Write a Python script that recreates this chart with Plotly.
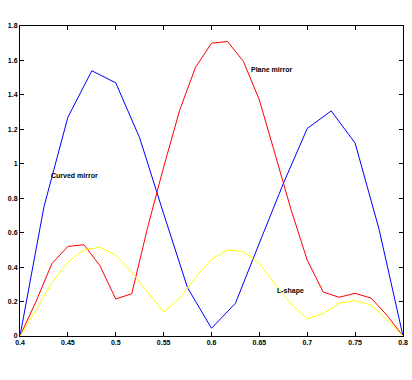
import plotly.graph_objects as go

# x grids
x_curved = [0.4, 0.425, 0.45, 0.475, 0.5, 0.525, 0.55, 0.575, 0.6, 0.625,
            0.65, 0.675, 0.7, 0.725, 0.75, 0.775, 0.8]
x_fine = [0.4, 0.4167, 0.4333, 0.45, 0.4667, 0.4833, 0.5, 0.5167, 0.5333, 0.55,
          0.5667, 0.5833, 0.6, 0.6167, 0.6333, 0.65, 0.6667, 0.6833, 0.7, 0.7167,
          0.7333, 0.75, 0.7667, 0.7833, 0.8]

curved_mirror = [0, 0.75, 1.27, 1.54, 1.47, 1.15, 0.71, 0.28, 0.045, 0.19,
                 0.54, 0.885, 1.205, 1.307, 1.12, 0.62, 0]
plane_mirror = [0, 0.2, 0.42, 0.52, 0.53, 0.41, 0.215, 0.245, 0.63, 0.98,
                1.31, 1.56, 1.70, 1.71, 1.595, 1.37, 1.05, 0.73, 0.44, 0.255,
                0.225, 0.248, 0.22, 0.12, 0]
l_shape = [0, 0.15, 0.31, 0.43, 0.50, 0.515, 0.47, 0.37, 0.255, 0.14,
           0.22, 0.34, 0.445, 0.50, 0.49, 0.42, 0.30, 0.185, 0.10, 0.13,
           0.19, 0.205, 0.18, 0.095, 0]

x_ticks = [0.4, 0.45, 0.5, 0.55, 0.6, 0.65, 0.7, 0.75, 0.8]
x_tick_labels = ["0.4", "0.45", "0.5", "0.55", "0.6", "0.65", "0.7", "0.75", "0.8"]
y_ticks = [0, 0.2, 0.4, 0.6, 0.8, 1.0, 1.2, 1.4, 1.6, 1.8]
y_tick_labels = ["0", "0.2", "0.4", "0.6", "0.8", "1", "1.2", "1.4", "1.6", "1.8"]

labels = ["Curved mirror", "Plane mirror", "L-shape"]
label_x = [0.4328, 0.6409, 0.6684]
label_y = [0.93, 1.55, 0.263]

fig = go.Figure()
fig.add_trace(go.Scatter(x=x_curved, y=curved_mirror, mode="lines",
                         line=dict(color="#0000ff", width=1), name=labels[0]))
fig.add_trace(go.Scatter(x=x_fine, y=plane_mirror, mode="lines",
                         line=dict(color="#ff0000", width=1), name=labels[1]))
fig.add_trace(go.Scatter(x=x_fine, y=l_shape, mode="lines",
                         line=dict(color="#ffff00", width=1), name=labels[2]))

for t, lx, ly in zip(labels, label_x, label_y):
    fig.add_annotation(x=lx, y=ly, text=t, showarrow=False, xanchor="left",
                       yanchor="middle", xshift=-2,
                       font=dict(family="Liberation Sans", size=7, color="black", weight="bold"))

axis_common = dict(showgrid=False, zeroline=False, showline=True, linecolor="black",
                   linewidth=1, mirror="ticks", ticks="inside", ticklen=4,
                   tickcolor="black", tickwidth=1, automargin=False,
                   tickfont=dict(family="Liberation Sans", size=7, color="black", weight="bold"))

fig.update_xaxes(range=[0.4, 0.8], tickvals=x_ticks, ticktext=x_tick_labels, **axis_common)
fig.update_yaxes(range=[0, 1.8], tickvals=y_ticks, ticktext=y_tick_labels, **axis_common)

fig.update_layout(width=412, height=380, showlegend=False,
                  paper_bgcolor="white", plot_bgcolor="white",
                  margin=dict(l=20, r=9, t=26, b=44))

fig.write_html("out.html", config={"displayModeBar": False},
               post_script="document.body.style.margin='0';document.body.style.overflow='hidden';")
